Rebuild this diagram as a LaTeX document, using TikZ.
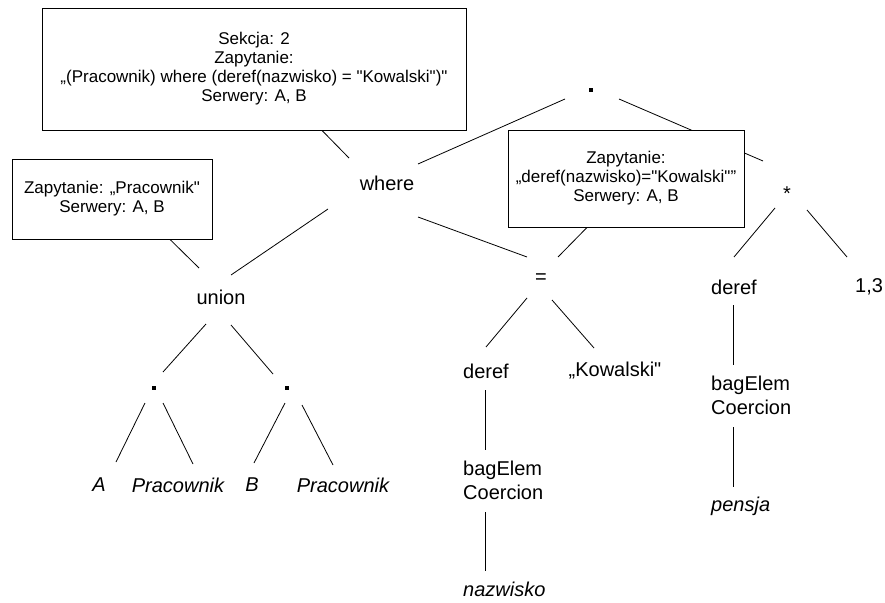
\documentclass[tikz,border=0pt]{standalone}
\usepackage{fontspec}
\setmainfont{Liberation Sans}[Ligatures=TeXOff]
\newcommand\treefont{\fontsize{20}{24}\selectfont}
\newcommand\boxfont{\fontsize{17}{19}\selectfont}
\begin{document}
\begin{tikzpicture}[x=1pt,y=-1pt,
  lbl/.style={inner sep=0pt, font=\treefont},
  lblit/.style={inner sep=0pt, font=\treefont\itshape},
  col/.style={lbl, anchor=west, align=left},
  colit/.style={lblit, anchor=west},
  opdot/.style={fill=black, inner sep=0pt, minimum size=4pt, shape=rectangle},
  infobox/.style={draw, fill=white, line width=0.9pt, align=center, font=\boxfont, inner sep=0pt},
  link/.style={line width=0.8pt}]
\useasboundingbox (0,0) rectangle (885,602);

% operator nodes of the query tree
\node[opdot] (d0) at (591,90) {};
\node[lbl] (where) at (387,183) {where};
\node[lbl] (star) at (787,194) {*};
\node[lbl] (union) at (221,297) {union};
\node[lbl] (eq) at (541,279) {=};
\node[opdot] (d1) at (154,388) {};
\node[opdot] (d2) at (287,388) {};

% leaves and unary chains
\node[lblit] (A) at (99,485) {A};
\node[lblit] (P1) at (178,485) {Pracownik};
\node[lblit] (B) at (252,485) {B};
\node[lblit] (P2) at (343,485) {Pracownik};
\node[col] (derefL) at (463,371) {deref};
\node[lbl] (kow) at (615,371) {„Kowalski"};
\node[col] (bagL) at (463,480) {bagElem\\Coercion};
\node[colit] (nazw) at (463,589) {nazwisko};
\node[col] (derefR) at (711,287) {deref};
\node[col] (k13) at (855,287) {1,3};
\node[col] (bagR) at (711,395) {bagElem\\Coercion};
\node[colit] (pensja) at (711,506) {pensja};

% tree edges
\draw[link] ([shift={(-26,9)}]d0.center) -- ([shift={(31,-19)}]where.center);
\draw[link] ([shift={(28,9)}]d0.center) -- ([shift={(-24,-33)}]star.center);
\draw[link] ([shift={(-59,26)}]where.center) -- ([shift={(10,-22)}]union.center);
\draw[link] ([shift={(31,34)}]where.center) -- ([shift={(-14,-22)}]eq.center);
\draw[link] ([shift={(-15,27)}]union.center) -- ([shift={(9,-16)}]d1.center);
\draw[link] ([shift={(10,28)}]union.center) -- ([shift={(-14,-14)}]d2.center);
\draw[link] ([shift={(-9,15)}]d1.center) -- ([shift={(17,-23)}]A.center);
\draw[link] ([shift={(9,15)}]d1.center) -- ([shift={(15,-21)}]P1.center);
\draw[link] ([shift={(-2,15)}]d2.center) -- ([shift={(2,-22)}]B.center);
\draw[link] ([shift={(15,17)}]d2.center) -- ([shift={(-10,-20)}]P2.center);
\draw[link] ([shift={(-14,19)}]eq.center) -- ([shift={(23,-24)}]derefL.west);
\draw[link] ([shift={(11,21)}]eq.center) -- ([shift={(-21,-23)}]kow.center);
\draw[link] ([shift={(-12,14)}]star.center) -- ([shift={(23,-30)}]derefR.west);
\draw[link] ([shift={(20,16)}]star.center) -- ([shift={(-8,-30)}]k13.west);
\draw[link] ([shift={(22,19)}]derefL.west) -- ([shift={(22,-30)}]bagL.west);
\draw[link] ([shift={(22,32)}]bagL.west) -- ([shift={(22,-18)}]nazw.west);
\draw[link] ([shift={(22,18)}]derefR.west) -- ([shift={(22,-30)}]bagR.west);
\draw[link] ([shift={(22,32)}]bagR.west) -- ([shift={(22,-19)}]pensja.west);

% annotation boxes
\node[infobox, minimum width=424pt, minimum height=122pt] (topbox) at (254,69)
  {Sekcja: 2\\Zapytanie:\\„(Pracownik) where (deref(nazwisko) = "Kowalski")"\\Serwery: A, B};
\node[infobox, minimum width=200pt, minimum height=80pt] (leftbox) at (112,199)
  {Zapytanie: „Pracownik"\\Serwery: A, B};
\node[infobox, minimum width=236pt, minimum height=97pt] (midbox) at (626,178.5)
  {Zapytanie:\\„deref(nazwisko)="Kowalski"”\\Serwery: A, B};

% callout lines from the boxes
\draw[link] ([shift={(68,0)}]topbox.south) -- ([shift={(-38,-25)}]where.center);
\draw[link] ([shift={(58,0)}]leftbox.south) -- ([shift={(-22,-29)}]union.center);
\draw[link] ([shift={(-39,0)}]midbox.south) -- ([shift={(17,-22)}]eq.center);
\end{tikzpicture}
\end{document}
